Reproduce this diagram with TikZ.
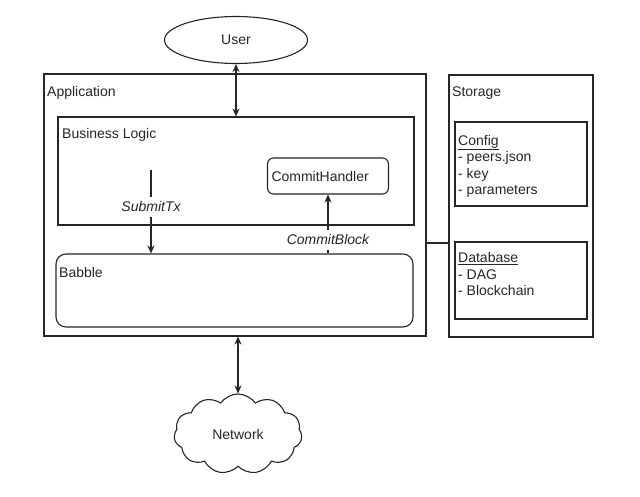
\documentclass[tikz,border=0pt]{standalone}
\usepackage{fontspec}
\setmainfont{Liberation Sans}
\usetikzlibrary{shapes.geometric,shapes.symbols,arrows.meta}
\begin{document}
\begin{tikzpicture}[x=1pt,y=-1pt,
  every node/.style={font=\fontsize{14}{16.5}\selectfont, text=black!85},
  box/.style={draw=black!85, line width=1.1pt, inner sep=0pt},
  rbox/.style={box, rounded corners=#1},
  title/.style={anchor=base west, inner sep=0pt},
  lbl/.style={fill=white, inner xsep=1pt, inner ysep=5pt, font=\fontsize{14}{16.5}\selectfont\itshape},
  conn/.style={draw=black!85, line width=1.1pt},
  arr/.style={conn, -{Stealth[length=8pt,width=7pt]}},
  darr/.style={conn, {Stealth[length=8pt,width=7pt]}-{Stealth[length=8pt,width=7pt]}},
  listtext/.style={anchor=north west, inner sep=0pt, align=left}
]
\useasboundingbox (0,0) rectangle (640,497);
\fill[white] (0,0) rectangle (640,497);

% outer boxes
\node[box, minimum width=382pt, minimum height=262pt] (app) at (235,205) {};
\node[box, minimum width=356pt, minimum height=108pt] (bl) at (236,171) {};
\node[rbox=6pt, minimum width=120pt, minimum height=36pt, text width=113pt, align=left, inner xsep=4pt] (ch) at (328,176) {CommitHandler};
\node[rbox=10pt, minimum width=357pt, minimum height=73pt] (babble) at (234.5,290.5) {};

\node[box, minimum width=144pt, minimum height=262pt] (storage) at (521,206) {};
\node[box, minimum width=132pt, minimum height=84pt] (config) at (521,164) {};
\node[box, minimum width=132pt, minimum height=77pt] (db) at (521,280.5) {};

\node[box, ellipse, minimum width=143pt, minimum height=47pt] (user) at (236,40) {User};
\node[box, cloud, cloud puffs=11, cloud puff arc=110, aspect=1.6, minimum width=128pt, minimum height=80pt] (net) at (238,434) {Network};

% titles
\node[title] (tapp) at (47,97) {Application};
\node[title] (tbl) at (62,139) {Business Logic};
\node[title] (tbab) at (59,277) {Babble};
\node[title] (tsto) at (452,97) {Storage};
\node[listtext] (tcfg) at (458,134.8) {\underline{Config}\\- peers.json\\- key\\- parameters};
\node[listtext] (tdb) at (458,252.5) {\underline{Database}\\- DAG\\- Blockchain};

% connectors
\draw[darr] (user.south) -- (user.south |- bl.north);
\draw[darr] (net.north) -- (net.north |- app.south);
\coordinate (stx) at (151,170);
\draw[arr] (stx) -- (stx |- babble.north) node[lbl, pos=0.44] (lstx) {SubmitTx};
\draw[arr] (ch.south |- babble.north) -- (ch.south) node[lbl, pos=0.23] (lcb) {CommitBlock};
\draw[conn] (app.east |- 0,243) -- (storage.west |- 0,243);
\end{tikzpicture}
\end{document}
